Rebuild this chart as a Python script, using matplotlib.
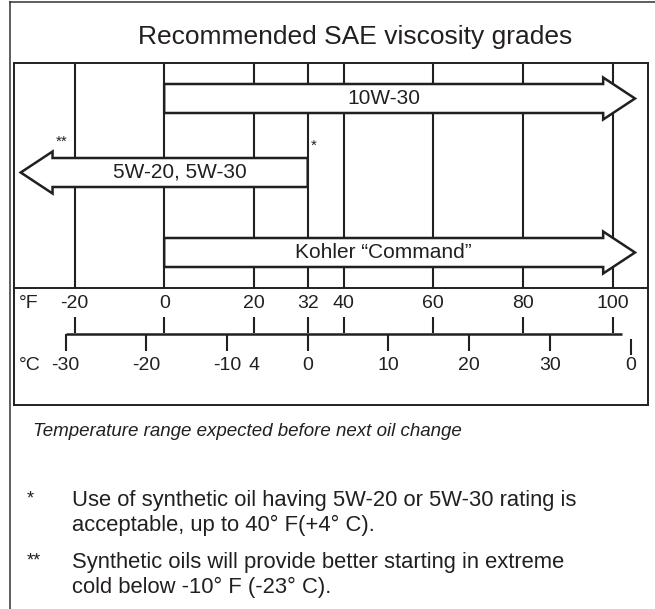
import matplotlib.pyplot as plt
from matplotlib.lines import Line2D

plt.rcParams['font.family'] = ['Liberation Sans', 'DejaVu Sans']

INK = '#231f20'

# temperature scale
f_ticks = [-20, 0, 20, 32, 40, 60, 80, 100]
f_labels = ['-20', '0', '20', '32', '40', '60', '80', '100']
c_ticks = [-30, -20, -10, 0, 10, 20, 30, 40]
c_labels = ['-30', '-20', '-10', '0', '10', '20', '30', '0']
c_extra_pos = -6.7      # stray "4" printed between -10 and 0
c_extra_label = '4'
scale_end_f = 102

# oil grades: label, start °F, tip °F
grades = ['10W-30', '5W-20, 5W-30', 'Kohler \u201cCommand\u201d']
grade_start = [0, 32, 0]
grade_tip = [105, -32, 105]

title = 'Recommended SAE viscosity grades'
caption = 'Temperature range expected before next oil change'
notes = [
    ('*', 'Use of synthetic oil having 5W-20 or 5W-30 rating is\nacceptable, up to 40\u00b0 F(+4\u00b0 C).'),
    ('**', 'Synthetic oils will provide better starting in extreme\ncold below -10\u00b0 F (-23\u00b0 C).'),
]

W, H = 655, 609
fig = plt.figure(figsize=(W / 100, H / 100), dpi=100)


def fx(x):
    return x / W


def fy(y):
    return 1 - y / H


# page frame (top and left only)
fig.add_artist(Line2D([fx(10), 1], [fy(2), fy(2)], color='#333333', lw=1.1))
fig.add_artist(Line2D([fx(10), fx(10)], [fy(2), 0], color='#333333', lw=1.1))

fig.text(fx(355), fy(37), title, ha='center', va='center', fontsize=19, color=INK)

# chart box: x in °F, y in pixels down from the top of the box
box_l, box_t, box_r, box_b = 14, 63, 648, 405
ax = fig.add_axes([fx(box_l), fy(box_b), (box_r - box_l) / W, (box_b - box_t) / H])
ax.set_xlim(-33.5, 107.9)
ax.set_ylim(box_b - box_t, 0)
ax.set_xticks([])
ax.set_yticks([])
for s in ax.spines.values():
    s.set_linewidth(1.4)
    s.set_color(INK)

grid_h = 225
ax.vlines(f_ticks, 0, grid_h, color=INK, lw=1.5, zorder=1)
ax.axhline(grid_h, color=INK, lw=1.4, zorder=1)

row_y = [35.5, 109.5, 189.5]
body_h, head_h, head_len = 29, 42, 7.1
for label, x0, x1, y in zip(grades, grade_start, grade_tip, row_y):
    ax.arrow(x0, y, x1 - x0, 0, width=body_h, head_width=head_h, head_length=head_len,
             length_includes_head=True, fc='white', ec=INK, lw=1.8, zorder=3)
    body_end = x1 - head_len if x1 > x0 else x1 + head_len
    ax.text((x0 + body_end) / 2, y, label, ha='center', va='center',
            fontsize=15, color=INK, zorder=4)

# footnote marks on the 5W arrow
ax.text(grade_tip[1] + head_len + 2, row_y[1] - 31, '**', ha='center', va='center',
        fontsize=11, color=INK)
ax.text(grade_start[1] + 1.3, row_y[1] - 27, '*', ha='center', va='center',
        fontsize=11, color=INK)

# Fahrenheit row
ax.text(-32.5, 240, '\u00b0F', ha='left', va='center', fontsize=14, color=INK)
for f, lab in zip(f_ticks, f_labels):
    ax.text(f, 240, lab, ha='center', va='center', fontsize=14, color=INK)
ax.vlines(f_ticks, 254, 270, color=INK, lw=1.5)

# Celsius row
c_as_f = [c * 9 / 5 + 32 for c in c_ticks]
ax.hlines(271, c_as_f[0], scale_end_f, color=INK, lw=1.8)
ax.vlines(c_as_f[:-1], 271, 288, color=INK, lw=1.5)
ax.vlines(c_as_f[-1], 276, 292, color=INK, lw=1.5)
ax.text(-32.5, 302, '\u00b0C', ha='left', va='center', fontsize=14, color=INK)
for f, lab in zip(c_as_f, c_labels):
    ax.text(f, 302, lab, ha='center', va='center', fontsize=14, color=INK)
ax.text(c_extra_pos * 9 / 5 + 32, 302, c_extra_label, ha='center', va='center',
        fontsize=14, color=INK)

# captions below the chart
fig.text(fx(33), fy(432), caption, ha='left', va='center', fontsize=13.5,
         style='italic', color=INK)
for (sym, txt), y in zip(notes, [513, 575]):
    fig.text(fx(27), fy(y - 14), sym, ha='left', va='center', fontsize=13, color=INK)
    fig.text(fx(72), fy(y), txt, ha='left', va='center', fontsize=15.8,
             color=INK, linespacing=1.2)

fig.savefig('out.png', dpi=100)
